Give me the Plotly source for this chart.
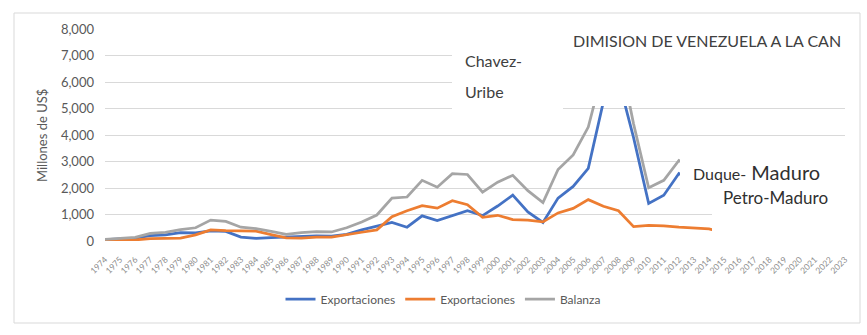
import plotly.graph_objects as go

# Years on the category axis
years = [str(y) for y in range(1974, 2024)]

# Millones de US$ per year (None where no value is plotted)
exportaciones_col = [
    50, 80, 110, 200, 230, 320, 310, 380, 360, 150,
    100, 130, 150, 180, 190, 180, 250, 420, 570, 700,
    520, 950, 770, 960, 1140, 960, 1320, 1730, 1100, 700,
    1620, 2060, 2740, 5250, 6090, 3900, 1420, 1730, 2550, 2250,
] + [None] * 10

exportaciones_ven = [
    0, 20, 40, 90, 100, 110, 230, 420, 390, 390,
    370, 240, 120, 110, 150, 150, 230, 330, 420, 920,
    1140, 1330, 1240, 1520, 1370, 890, 970, 810, 790, 720,
    1060, 1230, 1560, 1310, 1140, 540, 590, 570, 520, 490,
    460, 300,
] + [None] * 8

balanza = [
    60, 100, 140, 290, 330, 430, 500, 790, 740, 520,
    470, 360, 250, 320, 350, 340, 500, 720, 980, 1620,
    1660, 2290, 2030, 2540, 2510, 1840, 2220, 2480, 1900, 1450,
    2700, 3250, 4300, 6500, 7220, 4420, 2010, 2290, 3040, 2740,
] + [None] * 10

series_names = ["Exportaciones", "Exportaciones", "Balanza"]
series_colors = ["#4472C4", "#ED7D31", "#A5A5A5"]
series_values = [exportaciones_col, exportaciones_ven, balanza]

FONT = "Lato"
W, H = 867, 335
L, R, T, B = 105, 22, 29, 94
PW, PH = W - L - R, H - T - B


def px(x):
    return (x - L) / PW


def py(y):
    return (T + PH - y) / PH


fig = go.Figure()
for name, color, vals in zip(series_names, series_colors, series_values):
    fig.add_trace(go.Scatter(
        x=years, y=vals, name=name, mode="lines",
        line=dict(color=color, width=2.75),
        connectgaps=False,
    ))

# White label boxes laid over the plot
boxes = [
    (452, 563, 34, 111),   # Chavez-Uribe
    (563, 858, 16, 106),   # title box
    (680, 852, 140, 200),  # Duque-Maduro
    (712, 852, 182, 245),  # Petro-Maduro
]
shapes = [
    dict(type="rect", xref="paper", yref="paper",
         x0=px(14), x1=px(860), y0=py(323), y1=py(13),
         line=dict(color="#D9D9D9", width=1), fillcolor="rgba(0,0,0,0)",
         layer="below"),
]
for x0, x1, y0, y1 in boxes:
    shapes.append(dict(type="rect", xref="paper", yref="paper",
                       x0=px(x0), x1=px(x1), y0=py(y1), y1=py(y0),
                       line=dict(width=0), fillcolor="white", layer="above"))

annotations = [
    dict(text="DIMISION DE VENEZUELA A LA CAN", x=px(707), y=py(40),
         xanchor="center", yanchor="middle",
         font=dict(family=FONT, size=16, color="#404040")),
    dict(text="Chavez-", x=px(463), y=py(61), xanchor="left", yanchor="middle",
         font=dict(family=FONT, size=16, color="#404040")),
    dict(text="Uribe", x=px(463), y=py(91), xanchor="left", yanchor="middle",
         font=dict(family=FONT, size=16, color="#404040")),
    dict(text="Duque-<span style='font-size:20px'> Maduro</span>",
         x=px(691), y=py(172), xanchor="left", yanchor="middle",
         font=dict(family=FONT, size=16, color="#303030")),
    dict(text="Petro-Maduro", x=px(721), y=py(197), xanchor="left", yanchor="middle",
         font=dict(family=FONT, size=17, color="#303030")),
    dict(text="Millones de US$", x=px(42), y=py(136), textangle=-90,
         xanchor="center", yanchor="middle",
         font=dict(family=FONT, size=13, color="#595959")),
]
for a in annotations:
    a.update(xref="paper", yref="paper", showarrow=False)

fig.update_layout(
    width=W, height=H,
    margin=dict(l=L, r=R, t=T, b=B),
    paper_bgcolor="white", plot_bgcolor="white",
    font=dict(family=FONT, color="#595959"),
    showlegend=True,
    legend=dict(orientation="h", x=px(443), xanchor="center",
                y=py(299), yanchor="middle",
                font=dict(family=FONT, size=12, color="#595959"),
                bgcolor="rgba(0,0,0,0)"),
    shapes=shapes,
    annotations=annotations,
)
fig.update_xaxes(
    type="category", categoryorder="array", categoryarray=years,
    tickangle=-45, color="#8C8C8C",
    tickfont=dict(family=FONT, size=8.5, color="#8C8C8C"),
    showgrid=False, showline=False, zeroline=False, ticks="",
    ticklabelstandoff=11,
)
fig.update_yaxes(
    range=[0, 8000], dtick=1000, tickformat=",",
    tickfont=dict(family=FONT, size=13, color="#595959"),
    showgrid=True, gridcolor="#D9D9D9", gridwidth=1,
    zeroline=False, showline=False, ticks="", ticklabelstandoff=10,
)

fig.write_html("out.html")
